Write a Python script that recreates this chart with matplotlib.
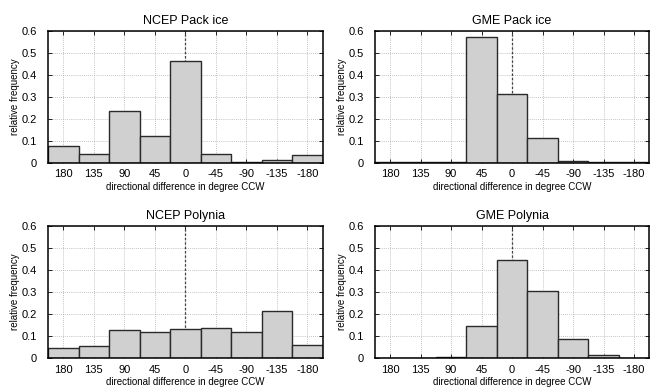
import matplotlib
matplotlib.use("Agg")
import matplotlib.pyplot as plt

plt.rcParams['font.family'] = ['Liberation Sans', 'DejaVu Sans']

# bin centres (degree CCW), axis runs from 180 down to -180
centers = [180, 135, 90, 45, 0, -45, -90, -135, -180]
tick_labels = ["180", "135", "90", "45", "0", "-45", "-90", "-135", "-180"]

ncep_pack = [0.076, 0.038, 0.236, 0.122, 0.461, 0.037, 0.004, 0.010, 0.036]
gme_pack = [0.001, 0.001, 0.001, 0.571, 0.313, 0.111, 0.009, 0.001, 0.001]
ncep_polynia = [0.048, 0.056, 0.130, 0.118, 0.134, 0.136, 0.119, 0.213, 0.062]
gme_polynia = [0.001, 0.002, 0.006, 0.145, 0.445, 0.307, 0.090, 0.016, 0.001]

panels = [
    ("NCEP Pack ice", ncep_pack, [0.072, 0.580, 0.411, 0.340]),
    ("GME Pack ice", gme_pack, [0.561, 0.580, 0.411, 0.340]),
    ("NCEP Polynia", ncep_polynia, [0.072, 0.074, 0.411, 0.342]),
    ("GME Polynia", gme_polynia, [0.561, 0.074, 0.411, 0.342]),
]

fig = plt.figure(figsize=(6.68, 3.87), dpi=100)

for title, values, rect in panels:
    ax = fig.add_axes(rect)
    ax.grid(True, color="#b0b0b0", linestyle=(0, (1, 1.5)), linewidth=0.6)
    ax.set_axisbelow(True)
    ax.axvline(0, color="#444444", linestyle=(0, (2, 1.5)), linewidth=0.9, zorder=1)
    ax.bar(centers, values, width=45, color="#d0d0d0", edgecolor="#2a2a2a",
           linewidth=1.0, zorder=2)
    ax.set_xlim(202.5, -202.5)
    ax.set_ylim(0, 0.6)
    ax.set_xticks(centers)
    ax.set_xticklabels(tick_labels)
    ax.set_yticks([0, 0.1, 0.2, 0.3, 0.4, 0.5, 0.6])
    ax.set_yticklabels(["0", "0.1", "0.2", "0.3", "0.4", "0.5", "0.6"])
    ax.tick_params(direction="in", length=3, width=0.6, labelsize=8,
                   top=True, right=True)
    ax.tick_params(axis="x", pad=4.5)
    ax.tick_params(axis="y", pad=8)
    for sp in ax.spines.values():
        sp.set_linewidth(1.1)
    ax.set_title(title, fontsize=9, pad=5)
    ax.set_xlabel("directional difference in degree CCW", fontsize=7, labelpad=2)
    ax.set_ylabel("relative frequency", fontsize=7, labelpad=1)

fig.savefig("out.png", dpi=100)
